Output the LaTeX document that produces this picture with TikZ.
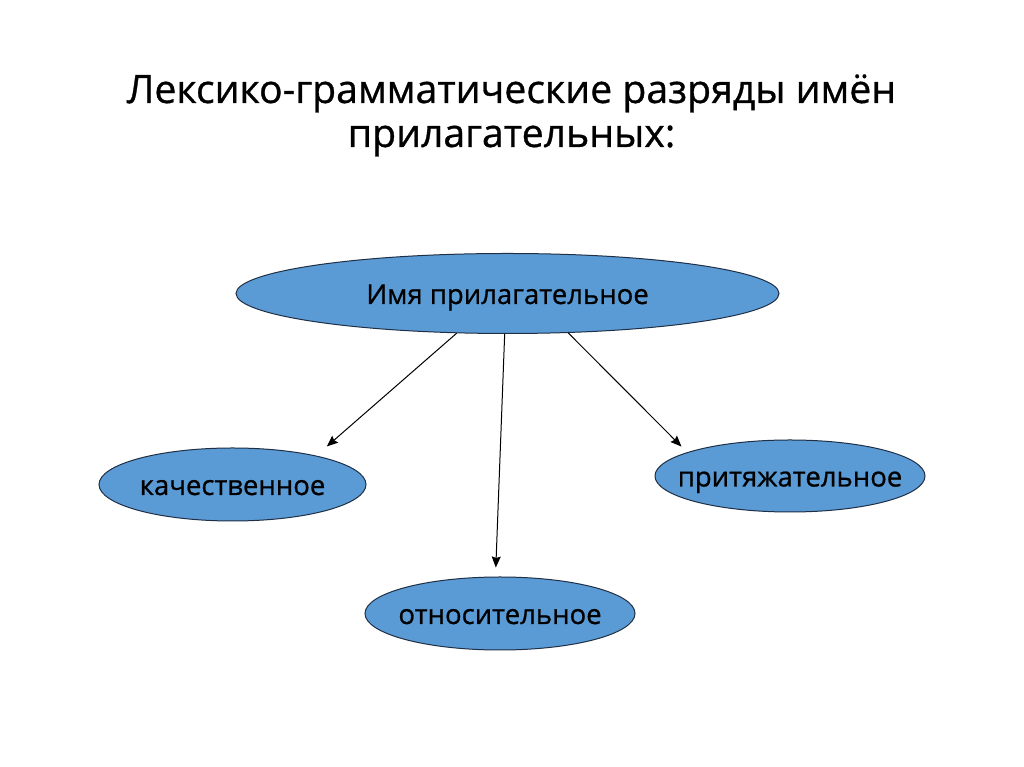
\documentclass[tikz,border=0pt]{standalone}
\usepackage{fontspec}
\setmainfont{Open Sans}[FakeBold=0.8]
\usetikzlibrary{shapes.geometric,arrows.meta}

\definecolor{ovalfill}{HTML}{5B9BD5}
\definecolor{ovaledge}{HTML}{1F2F45}

\tikzset{
  oval/.style={ellipse, draw=ovaledge, line width=1pt, fill=ovalfill, inner xsep=-20pt, inner ysep=0pt,
    text height=21pt, text depth=0pt, font=\fontsize{27.5}{30}\selectfont},
  arr/.style={-{Stealth[length=11pt,width=9pt,inset=1.5pt]}, line width=1pt},
  titletext/.style={anchor=base, inner sep=0pt, font=\fontsize{39.2}{44}\selectfont}
}

\begin{document}
\begin{tikzpicture}[x=1pt,y=1pt]

% Page frame
\useasboundingbox[fill=white] (0,0) rectangle (1024,767);

% Title
\node[titletext] (title) at (511.5,664) {Лексико-грамматические разряды имён};
\node[titletext] (subtitle) at (511.5,620) {прилагательных:};

% Ovals
\node[oval, minimum width=543pt, minimum height=80pt] (adj) at (507.5,473.5) {Имя прилагательное};
\node[oval, minimum width=267pt, minimum height=73pt] (qual) at (232.5,282.5) {качественное};
\node[oval, minimum width=270pt, minimum height=72pt] (poss) at (790,291) {притяжательное};
\node[oval, minimum width=270pt, minimum height=73pt] (rel) at (500,153.5) {относительное};

% Arrows from the main oval
\draw[arr, shorten >=14pt] (adj.218) -- (qual.19);
\draw[arr, shorten >=9pt] (adj.266) -- (rel.97);
\draw[arr, shorten >=8pt] (adj.327) -- (poss.167);

\end{tikzpicture}
\end{document}
